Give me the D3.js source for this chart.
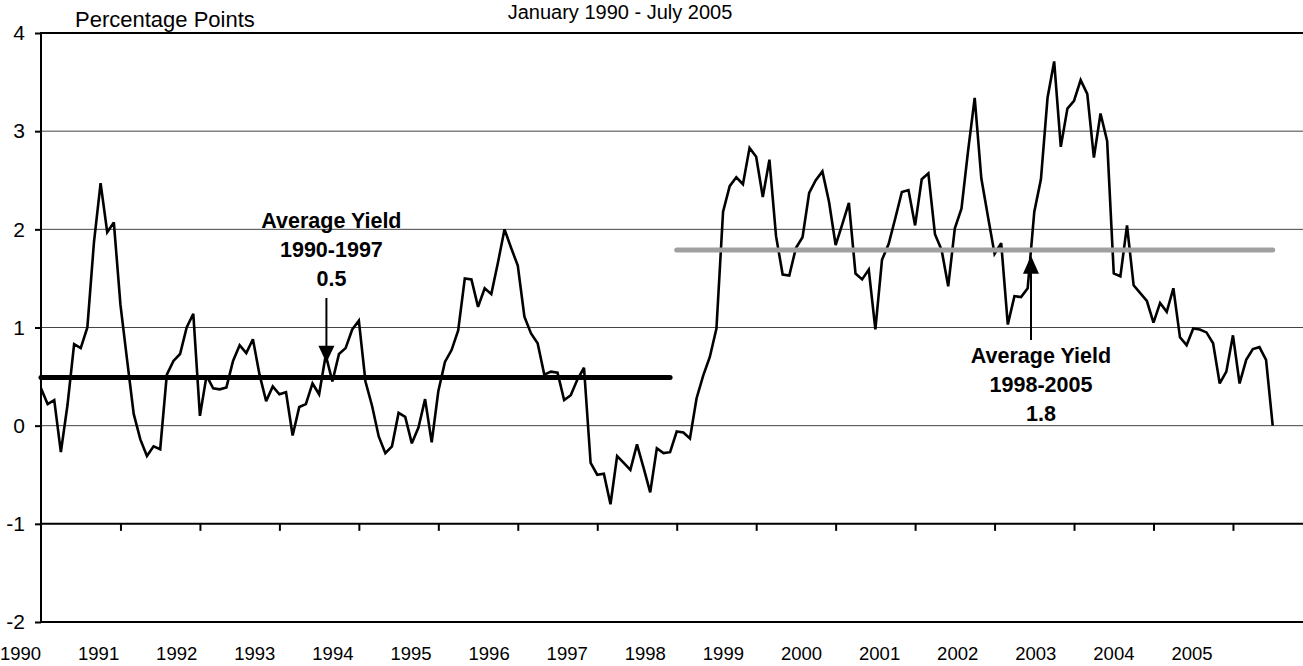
<!DOCTYPE html>
<html>
<head>
<meta charset="utf-8">
<script src="https://cdn.jsdelivr.net/npm/d3@7"></script>
<style>
  html, body { margin: 0; padding: 0; background: #fff; }
  svg { display: block; }
  text { font-family: "Liberation Sans", Arial, sans-serif; fill: #000; }
</style>
</head>
<body>
<svg id="chart" width="1303" height="666"></svg>
<script>
// ---- data (monthly, Jan 1990 .. Jul 2005) ----
const yearLabels = ["1990","1991","1992","1993","1994","1995","1996","1997",
                    "1998","1999","2000","2001","2002","2003","2004","2005"];
const yTickValues = [-2, -1, 0, 1, 2, 3, 4];
const yieldSpread = [
  0.38, 0.22, 0.26, -0.27, 0.21, 0.83, 0.79, 1.00, 1.87, 2.47, 1.97, 2.07,
  1.23, 0.67, 0.12, -0.14, -0.31, -0.21, -0.24, 0.52, 0.66, 0.73, 1.00, 1.14,
  0.10, 0.51, 0.38, 0.37, 0.39, 0.66, 0.82, 0.74, 0.88, 0.52, 0.25, 0.40,
  0.32, 0.34, -0.10, 0.19, 0.22, 0.43, 0.32, 0.72, 0.45, 0.73, 0.79, 0.98,
  1.07, 0.45, 0.20, -0.11, -0.28, -0.21, 0.13, 0.09, -0.18, -0.02, 0.27, -0.17,
  0.35, 0.65, 0.77, 0.97, 1.50, 1.49, 1.21, 1.40, 1.34, 1.66, 2.00, 1.81,
  1.63, 1.11, 0.94, 0.84, 0.52, 0.55, 0.54, 0.26, 0.31, 0.47, 0.59, -0.38,
  -0.50, -0.49, -0.80, -0.31, -0.38, -0.45, -0.19, -0.43, -0.68, -0.23, -0.28, -0.27,
  -0.06, -0.07, -0.13, 0.28, 0.51, 0.70, 0.99, 2.18, 2.44, 2.53, 2.46, 2.83,
  2.74, 2.33, 2.71, 1.93, 1.54, 1.53, 1.81, 1.92, 2.37, 2.50, 2.59, 2.28,
  1.84, 2.05, 2.27, 1.55, 1.49, 1.59, 0.98, 1.69, 1.85, 2.11, 2.38, 2.40,
  2.04, 2.51, 2.57, 1.95, 1.79, 1.42, 2.01, 2.21, 2.80, 3.34, 2.52, 2.13,
  1.75, 1.86, 1.03, 1.32, 1.31, 1.40, 2.18, 2.51, 3.34, 3.71, 2.84, 3.23,
  3.31, 3.52, 3.38, 2.73, 3.18, 2.90, 1.55, 1.52, 2.04, 1.43, 1.35, 1.27,
  1.05, 1.25, 1.16, 1.40, 0.90, 0.82, 0.99, 0.98, 0.95, 0.84, 0.43, 0.55,
  0.92, 0.43, 0.67, 0.78, 0.80, 0.67, 0.00
];
// average yields for the two periods (month index ranges)
const avgValues = [0.49, 1.79];
const avgStartMonth = [0, 96];
const avgEndMonth = [95, 186];
const avgColors = ["#000000", "#a0a0a0"];
// annotations
const annotLines = [["Average Yield", "1990-1997", "0.5"], ["Average Yield", "1998-2005", "1.8"]];
const annotMonth = [43.1, 149.5];       // arrow x position (month index)
const annotTipValue = [0.64, 1.73];     // value where arrow tip sits

(function () {
// ---- layout ----
const svg = d3.select("#chart");
const W = 1303, H = 666;
const monthPx = 6.622;
const plotLeft = 41, plotTop = 33, plotBottom = 622;

const x = d3.scaleLinear().domain([0, 192]).range([plotLeft, plotLeft + 192 * monthPx]);
const y = d3.scaleLinear().domain([-2, 4]).range([plotBottom, plotTop]);
const xLabel = d3.scalePoint().domain(yearLabels).range([20.5, 1192]);

svg.append("rect").attr("width", W).attr("height", H).attr("fill", "#fff");

// gridlines (0..3)
svg.append("g").selectAll("line").data([0, 1, 2, 3]).join("line")
  .attr("x1", plotLeft).attr("x2", W)
  .attr("y1", d => y(d)).attr("y2", d => y(d))
  .attr("stroke", "#444").attr("stroke-width", 1);

// frame lines: top (4), x axis (-1), bottom (-2), left axis
svg.append("g").selectAll("line").data([4, -1, -2]).join("line")
  .attr("x1", plotLeft).attr("x2", W)
  .attr("y1", d => y(d)).attr("y2", d => y(d))
  .attr("stroke", "#000").attr("stroke-width", 2);
svg.append("line").attr("x1", plotLeft).attr("x2", plotLeft)
  .attr("y1", y(4) - 1).attr("y2", y(-2) + 1)
  .attr("stroke", "#000").attr("stroke-width", 2);

// y axis ticks & labels
const yAxis = d3.axisLeft(y).tickValues(yTickValues).tickSize(6).tickPadding(10)
  .tickFormat(d => String(d));
const gy = svg.append("g").attr("transform", `translate(${plotLeft},0)`).call(yAxis);
gy.select(".domain").remove();
gy.selectAll(".tick line").attr("stroke", "#000").attr("stroke-width", 2);
gy.selectAll(".tick text").attr("font-size", 21).attr("font-family", "Liberation Sans, Arial, sans-serif")
  .attr("fill", "#000");

// x axis ticks at -1 line
const yearMonths = yearLabels.map((_, i) => i * 12);
const xAxis = d3.axisBottom(x).tickValues(yearMonths.filter(m => m > 0)).tickSize(7).tickFormat("");
const gx = svg.append("g").attr("transform", `translate(0,${y(-1)})`).call(xAxis);
gx.select(".domain").remove();
gx.selectAll(".tick line").attr("stroke", "#000").attr("stroke-width", 2);

// x labels
svg.append("g").selectAll("text").data(yearLabels).join("text")
  .attr("x", d => xLabel(d))
  .attr("y", 660)
  .attr("text-anchor", "middle")
  .attr("font-size", 18.5)
  .text(d => d);

// data line
const line = d3.line().x((d, i) => x(i)).y(d => y(d));
svg.append("path").datum(yieldSpread)
  .attr("d", line)
  .attr("fill", "none").attr("stroke", "#000").attr("stroke-width", 2.6)
  .attr("stroke-linejoin", "miter").attr("stroke-miterlimit", 3);

// average lines
svg.append("g").selectAll("line").data(avgValues).join("line")
  .attr("x1", (d, i) => x(avgStartMonth[i]))
  .attr("x2", (d, i) => x(avgEndMonth[i]))
  .attr("y1", d => y(d)).attr("y2", d => y(d))
  .attr("stroke", (d, i) => avgColors[i])
  .attr("stroke-width", 5).attr("stroke-linecap", "round");

// annotations
const a1x = x(annotMonth[0]);
const g1 = svg.append("g");
[228, 257, 286].forEach((by, k) => {
  g1.append("text").attr("x", a1x + 5).attr("y", by).attr("text-anchor", "middle")
    .attr("font-size", 21.5).attr("font-weight", "bold").text(annotLines[0][k]);
});
const tip1 = y(annotTipValue[0]);
g1.append("line").attr("x1", a1x).attr("x2", a1x).attr("y1", 298).attr("y2", tip1 - 14)
  .attr("stroke", "#000").attr("stroke-width", 2);
g1.append("path").attr("d", `M${a1x - 8},${tip1 - 17} L${a1x + 8},${tip1 - 17} L${a1x},${tip1} Z`)
  .attr("fill", "#000");

const a2x = x(annotMonth[1]);
const g2 = svg.append("g");
[363, 392, 421].forEach((by, k) => {
  g2.append("text").attr("x", a2x + 10).attr("y", by).attr("text-anchor", "middle")
    .attr("font-size", 21.5).attr("font-weight", "bold").text(annotLines[1][k]);
});
const tip2 = y(annotTipValue[1]);
g2.append("line").attr("x1", a2x).attr("x2", a2x).attr("y1", 340).attr("y2", tip2 + 14)
  .attr("stroke", "#000").attr("stroke-width", 2);
g2.append("path").attr("d", `M${a2x - 8},${tip2 + 18} L${a2x + 8},${tip2 + 18} L${a2x},${tip2} Z`)
  .attr("fill", "#000");

// titles
svg.append("text").attr("x", 75).attr("y", 27).attr("font-size", 22).text("Percentage Points");
svg.append("text").attr("x", 620).attr("y", 19).attr("text-anchor", "middle")
  .attr("font-size", 20).text("January 1990 - July 2005");
})();
</script>
</body>
</html>
